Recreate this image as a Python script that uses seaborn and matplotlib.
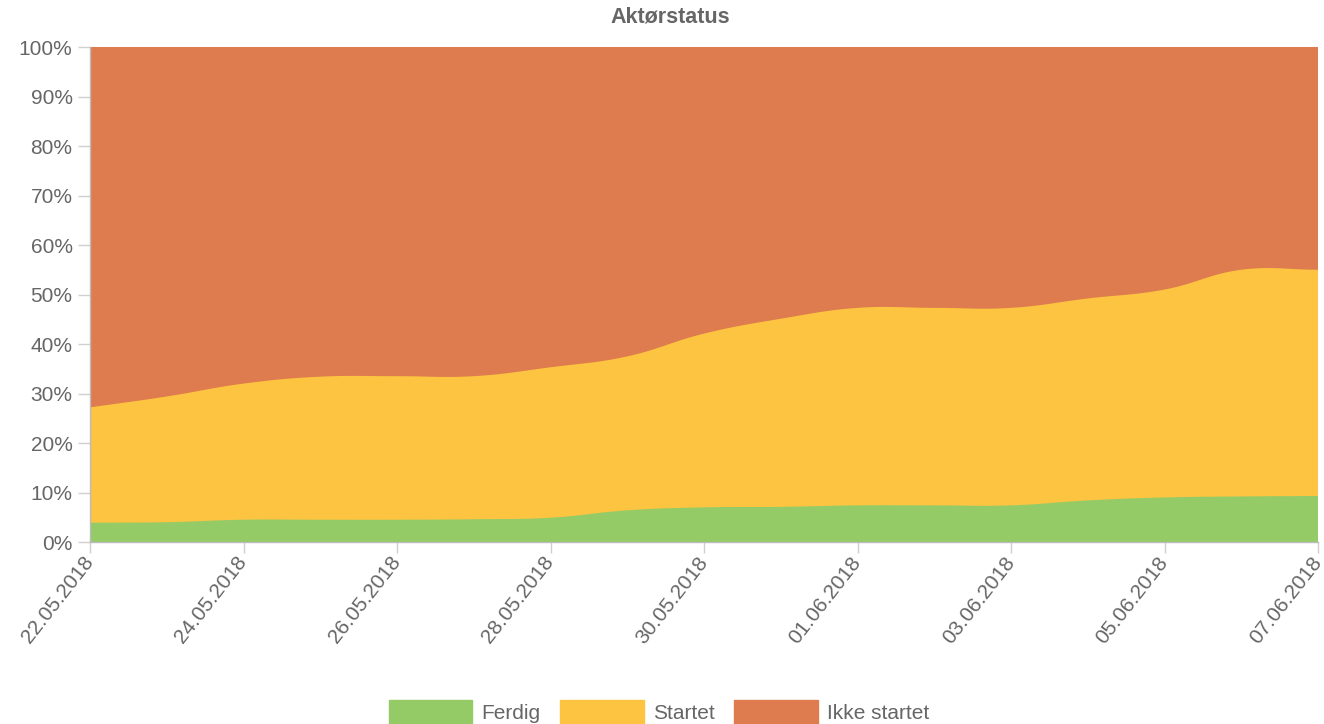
import numpy as np
import matplotlib
matplotlib.use("Agg")
import matplotlib.pyplot as plt
import seaborn as sns
from matplotlib.patches import Patch

# ---- data ----
dates = ["22.05.2018", "23.05.2018", "24.05.2018", "25.05.2018", "26.05.2018",
         "27.05.2018", "28.05.2018", "29.05.2018", "30.05.2018", "31.05.2018",
         "01.06.2018", "02.06.2018", "03.06.2018", "04.06.2018", "05.06.2018",
         "06.06.2018", "07.06.2018"]
ferdig = [3.9, 4.0, 4.5, 4.5, 4.5, 4.6, 4.9, 6.4, 7.0, 7.1, 7.4, 7.4, 7.4, 8.4, 9.0, 9.2, 9.3]
startet = [23.3, 25.4, 27.5, 28.9, 29.0, 28.9, 30.4, 31.1, 35.1, 38.0, 39.9, 39.9, 39.9, 40.8, 42.0, 45.8, 45.7]
ikke_startet = [72.8, 70.6, 68.0, 66.6, 66.5, 66.5, 64.7, 62.5, 57.9, 54.9, 52.7, 52.7, 52.7, 50.8, 49.0, 45.0, 45.0]
series_names = ["Ferdig", "Startet", "Ikke startet"]
colors = ["#95CB67", "#FCC440", "#DE7B4F"]
y_ticks = [0, 10, 20, 30, 40, 50, 60, 70, 80, 90, 100]

TEXT = "#666666"
FS = 15

sns.set_theme(style="white")
plt.rcParams['font.family'] = ['Liberation Sans', 'DejaVu Sans']

W, H = 1324, 724
fig = plt.figure(figsize=(W / 100, H / 100), dpi=100)
L, R, T, B = 90, 1318, 47, 542
ax = fig.add_axes([L / W, 1 - B / H, (R - L) / W, (B - T) / H])

x = np.arange(len(dates), dtype=float)
sx = (R - L) / (len(dates) - 1)   # px per day
sy = (B - T) / 100.0              # px per percent


def smooth(xs, ys, tension=0.4, n=24):
    """Chart.js-style bezier spline through the given points (rendering only)."""
    px = xs * sx
    py = ys * sy
    m = len(px)
    cpx_prev = np.zeros(m); cpy_prev = np.zeros(m)
    cpx_next = np.zeros(m); cpy_next = np.zeros(m)
    for i in range(m):
        p0 = (px[max(i - 1, 0)], py[max(i - 1, 0)])
        p1 = (px[i], py[i])
        p2 = (px[min(i + 1, m - 1)], py[min(i + 1, m - 1)])
        d01 = np.hypot(p1[0] - p0[0], p1[1] - p0[1])
        d12 = np.hypot(p2[0] - p1[0], p2[1] - p1[1])
        tot = d01 + d12
        s01 = d01 / tot if tot else 0
        s12 = d12 / tot if tot else 0
        fa, fb = tension * s01, tension * s12
        cpx_prev[i] = p1[0] - fa * (p2[0] - p0[0])
        cpy_prev[i] = p1[1] - fa * (p2[1] - p0[1])
        cpx_next[i] = p1[0] + fb * (p2[0] - p0[0])
        cpy_next[i] = p1[1] + fb * (p2[1] - p0[1])
    cpy_prev = np.clip(cpy_prev, 0, 100 * sy); cpy_next = np.clip(cpy_next, 0, 100 * sy)
    cpx_prev = np.clip(cpx_prev, 0, px[-1]); cpx_next = np.clip(cpx_next, 0, px[-1])
    t = np.linspace(0, 1, n, endpoint=False)
    ox, oy = [], []
    for i in range(m - 1):
        P0 = np.array([px[i], py[i]]); P1 = np.array([cpx_next[i], cpy_next[i]])
        P2 = np.array([cpx_prev[i + 1], cpy_prev[i + 1]]); P3 = np.array([px[i + 1], py[i + 1]])
        for tt in t:
            pt = ((1 - tt) ** 3) * P0 + 3 * ((1 - tt) ** 2) * tt * P1 + 3 * (1 - tt) * tt ** 2 * P2 + tt ** 3 * P3
            ox.append(pt[0]); oy.append(pt[1])
    ox.append(px[-1]); oy.append(py[-1])
    return np.array(ox) / sx, np.array(oy) / sy


vals = [np.array(ferdig), np.array(startet), np.array(ikke_startet)]
cum = np.cumsum(vals, axis=0)

ax.set_xlim(0, len(dates) - 1)
ax.set_ylim(0, 100)

# grid (under fills)
ax.grid(True, color="#e6e6e6", linewidth=1, zorder=0)

prev_sx, prev_sy = smooth(x, np.zeros_like(x))
for k in range(3):
    cx, cy = smooth(x, cum[k])
    poly_x = np.concatenate([cx, prev_sx[::-1]])
    poly_y = np.concatenate([cy, prev_sy[::-1]])
    ax.fill(poly_x, poly_y, color=colors[k], linewidth=0, zorder=2 + k)
    sns.lineplot(x=cx, y=cy, ax=ax, color=colors[k], linewidth=1.2, sort=False,
                 estimator=None, zorder=3 + k)
    prev_sx, prev_sy = cx, cy

ax.set_yticks(y_ticks)
ax.set_yticklabels([f"{v}%" for v in y_ticks])
ax.set_xticks(x[::2])
ax.set_xticklabels(dates[::2], rotation=52, ha="right", va="center",
                   rotation_mode="anchor")

ax.tick_params(axis="both", bottom=True, left=True, colors="#d0d0d0",
               labelcolor=TEXT, labelsize=FS, width=1, direction="out")
ax.tick_params(axis="x", pad=4, length=8)
ax.tick_params(axis="y", pad=4, length=8.6)
ax.set_xlabel(""); ax.set_ylabel("")
for s in ["top", "right"]:
    ax.spines[s].set_visible(False)
for s in ["left", "bottom"]:
    ax.spines[s].set_color("#bbbbbb")
    ax.spines[s].set_linewidth(1)
    ax.spines[s].set_zorder(10)

fig.text(670 / W, 1 - 17 / H, "Aktørstatus", ha="center", va="center",
         fontsize=15.5, fontweight="bold", color=TEXT)

handles = [Patch(facecolor=c, edgecolor=c, label=n) for c, n in zip(colors, series_names)]
fig.legend(handles=handles, loc="center", bbox_to_anchor=(659 / W, 1 - 712 / H),
           ncol=3, frameon=False, fontsize=FS, labelcolor=TEXT,
           handlelength=4.0, handleheight=1.4, handletextpad=0.45, columnspacing=0.95,
           borderaxespad=0, borderpad=0)

fig.savefig("out.png", dpi=100)
